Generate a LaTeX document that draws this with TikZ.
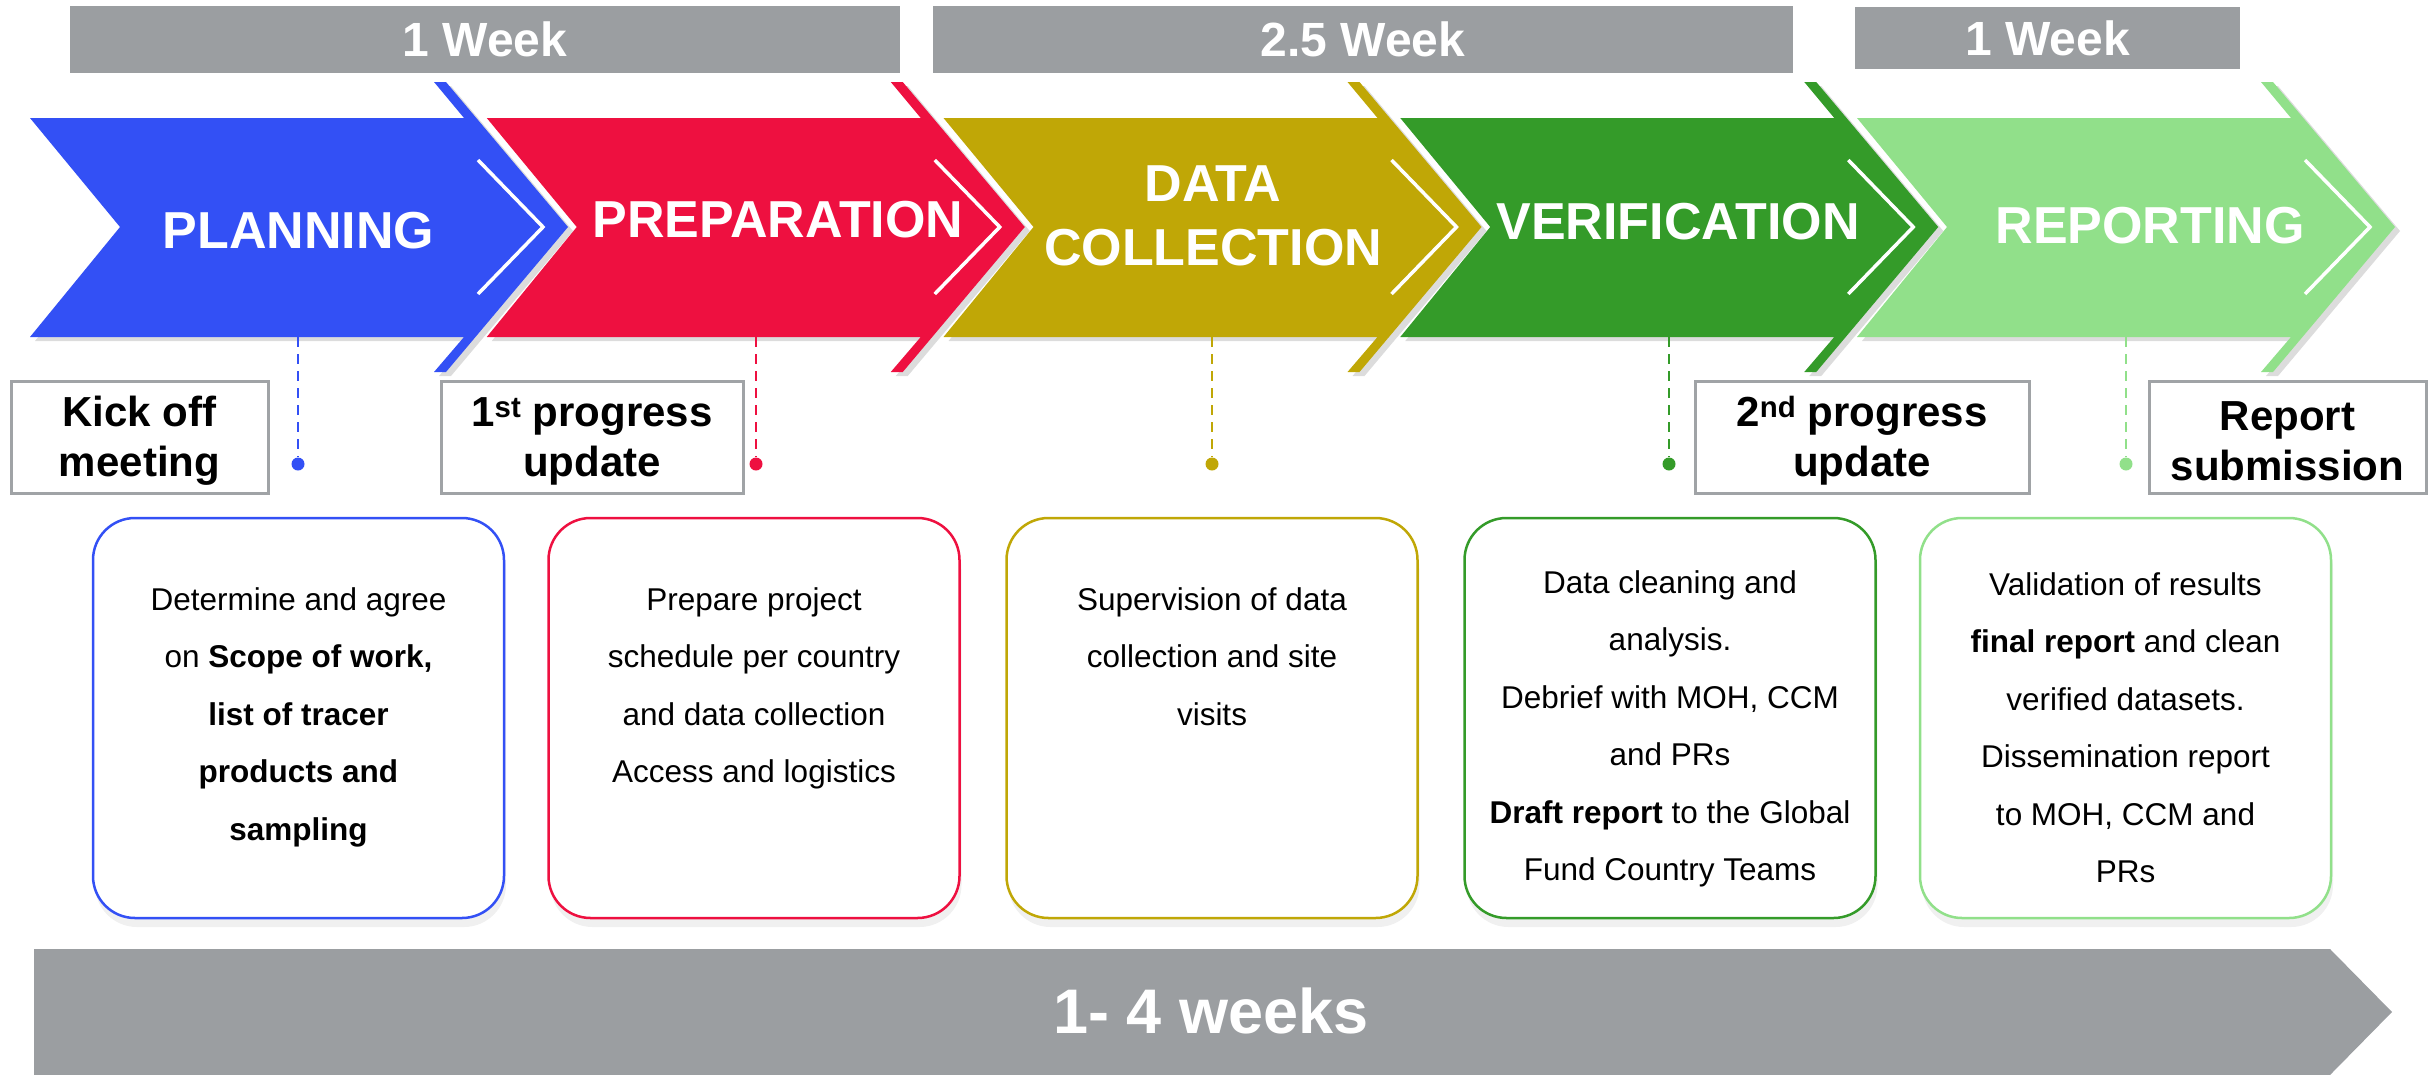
\documentclass[tikz,border=0pt]{standalone}
\usepackage{fontspec}
\setmainfont{Liberation Sans}
\usetikzlibrary{shadows}
\definecolor{cBlue}{RGB}{51,80,245}
\definecolor{cRed}{RGB}{238,16,64}
\definecolor{cGold}{RGB}{192,167,6}
\definecolor{cGreen}{RGB}{52,155,41}
\definecolor{cLight}{RGB}{145,224,138}
\definecolor{cGrey}{RGB}{155,158,161}
\definecolor{cBorder}{RGB}{160,163,166}
\begin{document}
\begin{tikzpicture}[x=1pt,y=-1pt,
  topbar/.style={fill=cGrey, inner sep=0pt, text=white,
    font=\fontsize{48}{52}\selectfont\bfseries},
  chevshape/.style={drop shadow={opacity=0.28, shadow xshift=5pt, shadow yshift=-4pt}},
  chevline/.style={draw=white, line width=3.5pt},
  ctext/.style={text=white, inner sep=0pt, align=center,
    font=\fontsize{52}{63.5}\selectfont\bfseries},
  msbox/.style={draw=cBorder, line width=3pt, fill=white, inner sep=0pt, minimum height=112pt},
  mstext/.style={inner sep=0pt, align=center,
    font=\fontsize{42}{50}\selectfont\bfseries},
  dot/.style={circle, minimum size=13pt, inner sep=0pt},
  dashline/.style={line width=2.5pt, dash pattern=on 10pt off 7pt},
  cbox/.style={rounded corners=42pt, minimum width=411pt, minimum height=400pt,
    line width=2.5pt, fill=white, inner sep=0pt,
    drop shadow={opacity=0.12, shadow xshift=2pt, shadow yshift=-9pt}},
  btext/.style={align=center, inner sep=0pt, anchor=north,
    font=\fontsize{31.5}{57.5}\selectfont},
  bottomtext/.style={text=white, inner sep=0pt, font=\fontsize{63}{66}\selectfont\bfseries}
]
\useasboundingbox (0,0) rectangle (2428,1074);

% top duration bars
\node[topbar, minimum width=830pt, minimum height=67pt] (w1) at (485,39.5) {1 Week};
\node[topbar, minimum width=860pt, minimum height=67pt] (w2) at (1363,39.5) {2.5 Week};
\node[topbar, minimum width=385pt, minimum height=62pt] (w3) at (2047.5,38) {1 Week};

% chevrons
\foreach \i/\col in {0/cBlue,1/cRed,2/cGold,3/cGreen,4/cLight}{
  \pgfmathsetmacro\dx{456.75*\i}
  \begin{scope}[xshift=\dx pt]
    \fill[\col, chevshape] (30,118) -- (464,118) -- (434,82) -- (446,82) -- (568,227)
      -- (446,372) -- (434,372) -- (464,337) -- (30,337) -- (120,227) -- cycle;
    \draw[chevline] (478,160) -- (543,227) -- (478,294);
  \end{scope}
}

\node[ctext] (tPlan) at (298.5,231) {PLANNING};
\node[ctext] (tPrep) at (778,220) {PREPARATION};
\node[ctext] (tData) at (1213,216) {DATA\\COLLECTION};
\node[ctext] (tVer) at (1678,222) {VERIFICATION};
\node[ctext] (tRep) at (2150,226) {REPORTING};

% milestone boxes
\node[msbox, minimum width=257pt] (m1) at (139.5,437) {};
\node[msbox, minimum width=302pt] (m2) at (592,437) {};
\node[msbox, minimum width=334pt] (m3) at (1862,437) {};
\node[msbox, minimum width=277pt] (m4) at (2287.5,437) {};
\node[mstext] (m1t) at (m1.center) [yshift=-4pt] {Kick off\\meeting};
\node[mstext] (m2t) at (m2.center) [yshift=-4pt] {1\textsuperscript{st} progress\\update};
\node[mstext] (m3t) at (m3.center) [yshift=-4pt] {2\textsuperscript{nd} progress\\update};
\node[mstext] (m4t) at (m4.center) [yshift=-4pt] {Report\\submission};

% milestone connectors
\coordinate (s1) at (298,337);
\coordinate (s2) at (756,337);
\coordinate (s3) at (1212,337);
\coordinate (s4) at (1669,337);
\coordinate (s5) at (2126,337);
\node[dot, fill=cBlue] (d1) at (298,464) {};
\node[dot, fill=cRed] (d2) at (756,464) {};
\node[dot, fill=cGold] (d3) at (1212,464) {};
\node[dot, fill=cGreen] (d4) at (1669,464) {};
\node[dot, fill=cLight] (d5) at (2126,464) {};
\draw[dashline, cBlue] (s1) -- (d1);
\draw[dashline, cRed] (s2) -- (d2);
\draw[dashline, cGold] (s3) -- (d3);
\draw[dashline, cGreen] (s4) -- (d4);
\draw[dashline, cLight] (s5) -- (d5);

% content boxes
\node[cbox, draw=cBlue] (b1) at (298.5,718) {};
\node[cbox, draw=cRed] (b2) at (754,718) {};
\node[cbox, draw=cGold] (b3) at (1212,718) {};
\node[cbox, draw=cGreen] (b4) at (1670,718) {};
\node[cbox, draw=cLight] (b5) at (2125.5,718) {};

\node[btext] (x1) at (298.5,587) {Determine and agree\\on \textbf{Scope of work,}\\\textbf{list of tracer}\\\textbf{products and}\\\textbf{sampling}};
\node[btext] (x2) at (754,587) {Prepare project\\schedule per country\\and data collection\\Access and logistics};
\node[btext] (x3) at (1212,587) {Supervision of data\\collection and site\\visits};
\node[btext] (x4) at (1670,570) {Data cleaning and\\analysis.\\Debrief with MOH, CCM\\and PRs\\\textbf{Draft report} to the Global\\Fund Country Teams};
\node[btext] (x5) at (2125.5,572) {Validation of results\\\textbf{final report} and clean\\verified datasets.\\Dissemination report\\to MOH, CCM and\\PRs};

% bottom band
\fill[cGrey] (34,949) -- (2330,949) -- (2392,1012) -- (2330,1075) -- (34,1075) -- cycle;
\node[bottomtext] (bw) at (1211,1010.5) {1- 4 weeks};
\end{tikzpicture}
\end{document}
